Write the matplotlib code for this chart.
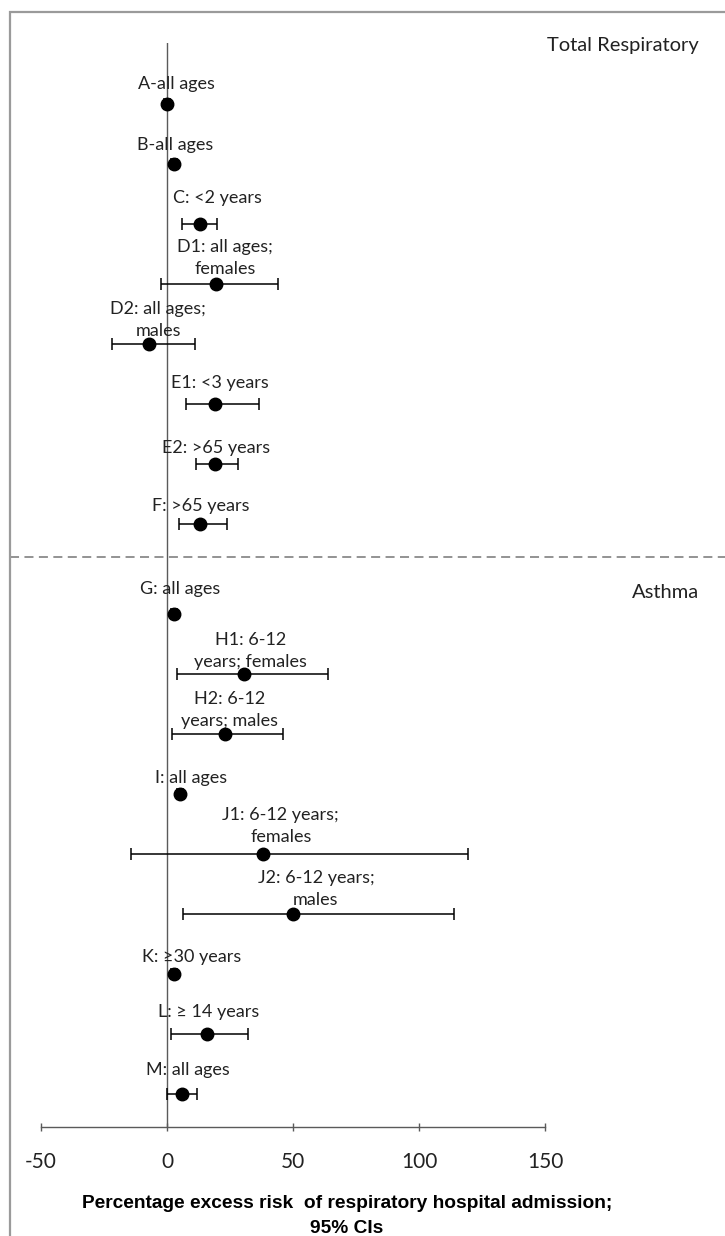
import numpy as np
import matplotlib.pyplot as plt
from matplotlib.patches import Rectangle
from matplotlib import transforms

# study labels, grouped by outcome
labels = ["A-all ages", "B-all ages", "C: <2 years", "D1: all ages;\nfemales",
          "D2: all ages;\nmales", "E1: <3 years", "E2: >65 years", "F: >65 years",
          "G: all ages", "H1: 6-12\nyears; females", "H2: 6-12\nyears; males",
          "I: all ages", "J1: 6-12 years;\nfemales", "J2: 6-12 years;\nmales",
          "K: \u226530 years", "L: \u2265 14 years", "M: all ages"]
groups = ["Total Respiratory"] * 8 + ["Asthma"] * 9

# percentage excess risk and 95% CI
estimate = [0, 2.8, 13, 19.5, -7, 19, 19, 13,
            2.8, 30.7, 23, 5.2, 38, 50, 2.8, 16, 6]
lower = [-1, 1.5, 6, -2.4, -22, 7.5, 11.5, 4.8,
         1.5, 4, 2, 4, -14.3, 6.4, 1.5, 1.6, 0]
upper = [1, 4, 20, 44, 11, 36.6, 28, 24,
         4, 63.7, 46, 6.5, 119.5, 114, 4, 32, 12]

xticks = [-50, 0, 50, 100, 150]

# label offsets from the point, in pixels (layout only)
label_dx = [9, 1, 18, 9, 9, 5, 1, 1, 6, 6, 5, 11, 18, 23, 18, 1, 6]
label_dy = [21, 20, 27, 16, 14, 22, 17, 19, 26, 13, 14, 17, 18, 15, 18, 23, 25]

W, H = 725, 1236
fig = plt.figure(figsize=(W / 100, H / 100), dpi=100)
ax = fig.add_axes([41 / W, 1 - 1127 / H, 504 / W, (1127 - 43) / H])

# rows, with an extra half-row gap between the two groups
is_asthma = np.array([g == "Asthma" for g in groups])
ypos = np.arange(len(labels)) + np.where(is_asthma, 0.5, 0.0)

est = np.array(estimate)
err = np.vstack([est - np.array(lower), np.array(upper) - est])

ax.axvline(0, color="#5a5a5a", lw=1.0, zorder=1)
ax.errorbar(est, ypos, xerr=err, fmt="o", color="black", ms=9,
            elinewidth=1.1, capsize=4, capthick=1.1, zorder=3)

lab_font = dict(family=["Lato", "DejaVu Sans"], fontsize=13, color="#222222")
for x, y, t, dx, dy in zip(est, ypos, labels, label_dx, label_dy):
    ax.annotate(t, xy=(x, y), xytext=(dx * 0.72, (dy - 9) * 0.72),
                textcoords="offset points", ha="center", va="bottom",
                multialignment="center", linespacing=1.45, **lab_font)

ax.set_xlim(-50, 150)
ax.set_ylim(17.05, -1.02)
ax.set_yticks([])
ax.set_xticks(xticks)
ax.set_xticklabels([str(v) for v in xticks], family="Lato", fontsize=15,
                   color="#222222")
ax.tick_params(axis="x", direction="inout", length=6, width=1,
               color="#5a5a5a", pad=15)
for s in ["top", "right", "left"]:
    ax.spines[s].set_visible(False)
ax.spines["bottom"].set_color("#5a5a5a")
ax.spines["bottom"].set_linewidth(1.0)
ax.patch.set_alpha(0)

# dashed separator between the groups, across the whole frame
sep_y = ypos[~is_asthma][-1] + 0.55
tr = transforms.blended_transform_factory(fig.transFigure, ax.transData)
ax.plot([10 / W, 1.0], [sep_y, sep_y], transform=tr, color="#8a8a8a",
        lw=1.3, ls=(0, (5, 3)), clip_on=False, zorder=0)

# group titles
fig.text(699 / W, 1 - 45 / H, "Total Respiratory", ha="right", va="center",
         family="Lato", fontsize=14.5, color="#222222")
fig.text(699 / W, 1 - 593 / H, "Asthma", ha="right", va="center",
         family="Lato", fontsize=14.5, color="#222222")

# axis title
fig.text(347 / W, 1 - 1216 / H,
         "Percentage excess risk  of respiratory hospital admission;\n95% CIs",
         ha="center", va="center", family="Liberation Sans", weight="bold",
         fontsize=13.8, linespacing=1.6, color="black")

# outer chart frame
fig.add_artist(Rectangle((10 / W, -0.01), 1.2, 1 - 12 / H + 0.01,
                         transform=fig.transFigure, fill=False,
                         ec="#9a9a9a", lw=1.6))

fig.savefig("out.png", dpi=100)
